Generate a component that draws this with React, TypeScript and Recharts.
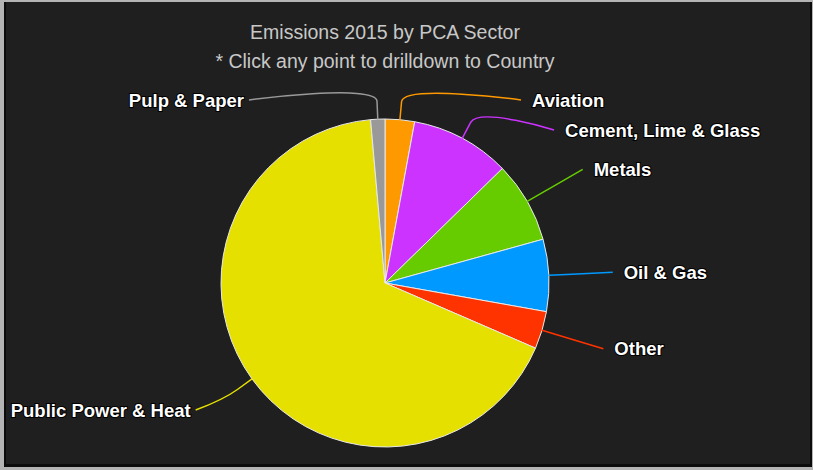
import { PieChart, Pie, Cell } from 'recharts';

// share of 2015 emissions per sector (%)
const sectors = ['Aviation', 'Cement, Lime & Glass', 'Metals', 'Oil & Gas', 'Other', 'Public Power & Heat', 'Pulp & Paper'];
const emissions = [2.9, 9.8, 8.0, 7.1, 3.7, 67.1, 1.4];
const sectorColors = ['#ff9900', '#cc33ff', '#66cc00', '#0099ff', '#ff3300', '#e5e000', '#999999'];

const W = 813;
const H = 470;
const CX = 385;
const CY = 283;
const RADIUS = 164;
const LABEL_R = 228;

const data = sectors.map((name, i) => ({ name, value: emissions[i] }));

// highcharts-ish label placement: natural spot on a bigger circle, pushed apart
function layoutLabels() {
  const total = emissions.reduce((a, b) => a + b, 0);
  let cum = 0;
  const items = emissions.map((v, i) => {
    const mid = ((cum + v / 2) / total) * 360;
    cum += v;
    const y = CY - LABEL_R * Math.cos((mid * Math.PI) / 180);
    return { i, mid, y, right: mid < 180 };
  });
  [true, false].forEach(side => {
    const group = items.filter(it => it.right === side).sort((a, b) => a.y - b.y);
    let prev = -Infinity;
    group.forEach(it => {
      it.y = Math.min(Math.max(it.y, 100, prev + 30), 410);
      prev = it.y;
    });
  });
  return items.sort((a, b) => a.i - b.i);
}

const labelPos = layoutLabels();

function SectorLabel(props: any) {
  const idx = props.index ?? sectors.indexOf(props.name);
  const pos = labelPos[idx];
  if (!pos) return null;
  const a = (pos.mid * Math.PI) / 180;
  const ex = CX + RADIUS * Math.sin(a);
  const ey = CY - RADIUS * Math.cos(a);
  const bx = CX + (RADIUS + 18) * Math.sin(a);
  const by = CY - (RADIUS + 18) * Math.cos(a);
  const dy = pos.y - CY;
  const dx = Math.sqrt(Math.max(LABEL_R * LABEL_R - dy * dy, 0));
  const lx = pos.right ? CX + dx : CX - dx;
  const ly = pos.y;
  const d = `M${lx},${ly} C${lx},${ly} ${2 * bx - ex},${2 * by - ey} ${bx},${by} L${ex},${ey}`;
  return (
    <g>
      <path d={d} fill="none" stroke={sectorColors[idx]} strokeWidth={1.5} />
      <text
        x={pos.right ? lx + 11 : lx - 5}
        y={ly}
        textAnchor={pos.right ? 'start' : 'end'}
        dominantBaseline="central"
        fill="#ffffff"
        stroke="#000000"
        strokeWidth={2}
        paintOrder="stroke"
        style={{ fontFamily: '"Liberation Sans", Arial, sans-serif', fontWeight: 'bold', fontSize: 18.5 }}
      >
        {sectors[idx]}
      </text>
    </g>
  );
}

export default function App() {
  return (
    <div style={{ position: 'absolute', left: 0, top: 0, width: W, height: H, background: '#b4b4b4' }}>
      <div
        style={{
          position: 'absolute', left: 4, top: 2, width: 804, height: 462,
          background: '#1f1f1f', borderLeft: '2px solid #0c0c0c', borderRight: '2px solid #0c0c0c',
          borderBottom: '3px solid #0c0c0c',
        }}
      />
      <div
        style={{
          position: 'absolute', left: 0, top: 18, width: 770, textAlign: 'center', color: '#c8c8c8',
          fontFamily: '"Liberation Sans", Arial, sans-serif', fontSize: 19.5, lineHeight: '29px',
        }}
      >
        <div>Emissions 2015 by PCA Sector</div>
        <div>* Click any point to drilldown to Country</div>
      </div>
      <div style={{ position: 'absolute', left: 0, top: 0 }}>
        <PieChart width={W} height={H} margin={{ top: 0, right: 0, bottom: 0, left: 0 }}>
          <Pie
            data={data}
            dataKey="value"
            nameKey="name"
            cx={CX}
            cy={CY}
            outerRadius={RADIUS}
            startAngle={90}
            endAngle={-270}
            stroke="#e8e8e8"
            strokeWidth={1}
            labelLine={false}
            label={SectorLabel}
            isAnimationActive={false}
          >
            {data.map((d, i) => (
              <Cell key={d.name} fill={sectorColors[i]} />
            ))}
          </Pie>
        </PieChart>
      </div>
    </div>
  );
}
